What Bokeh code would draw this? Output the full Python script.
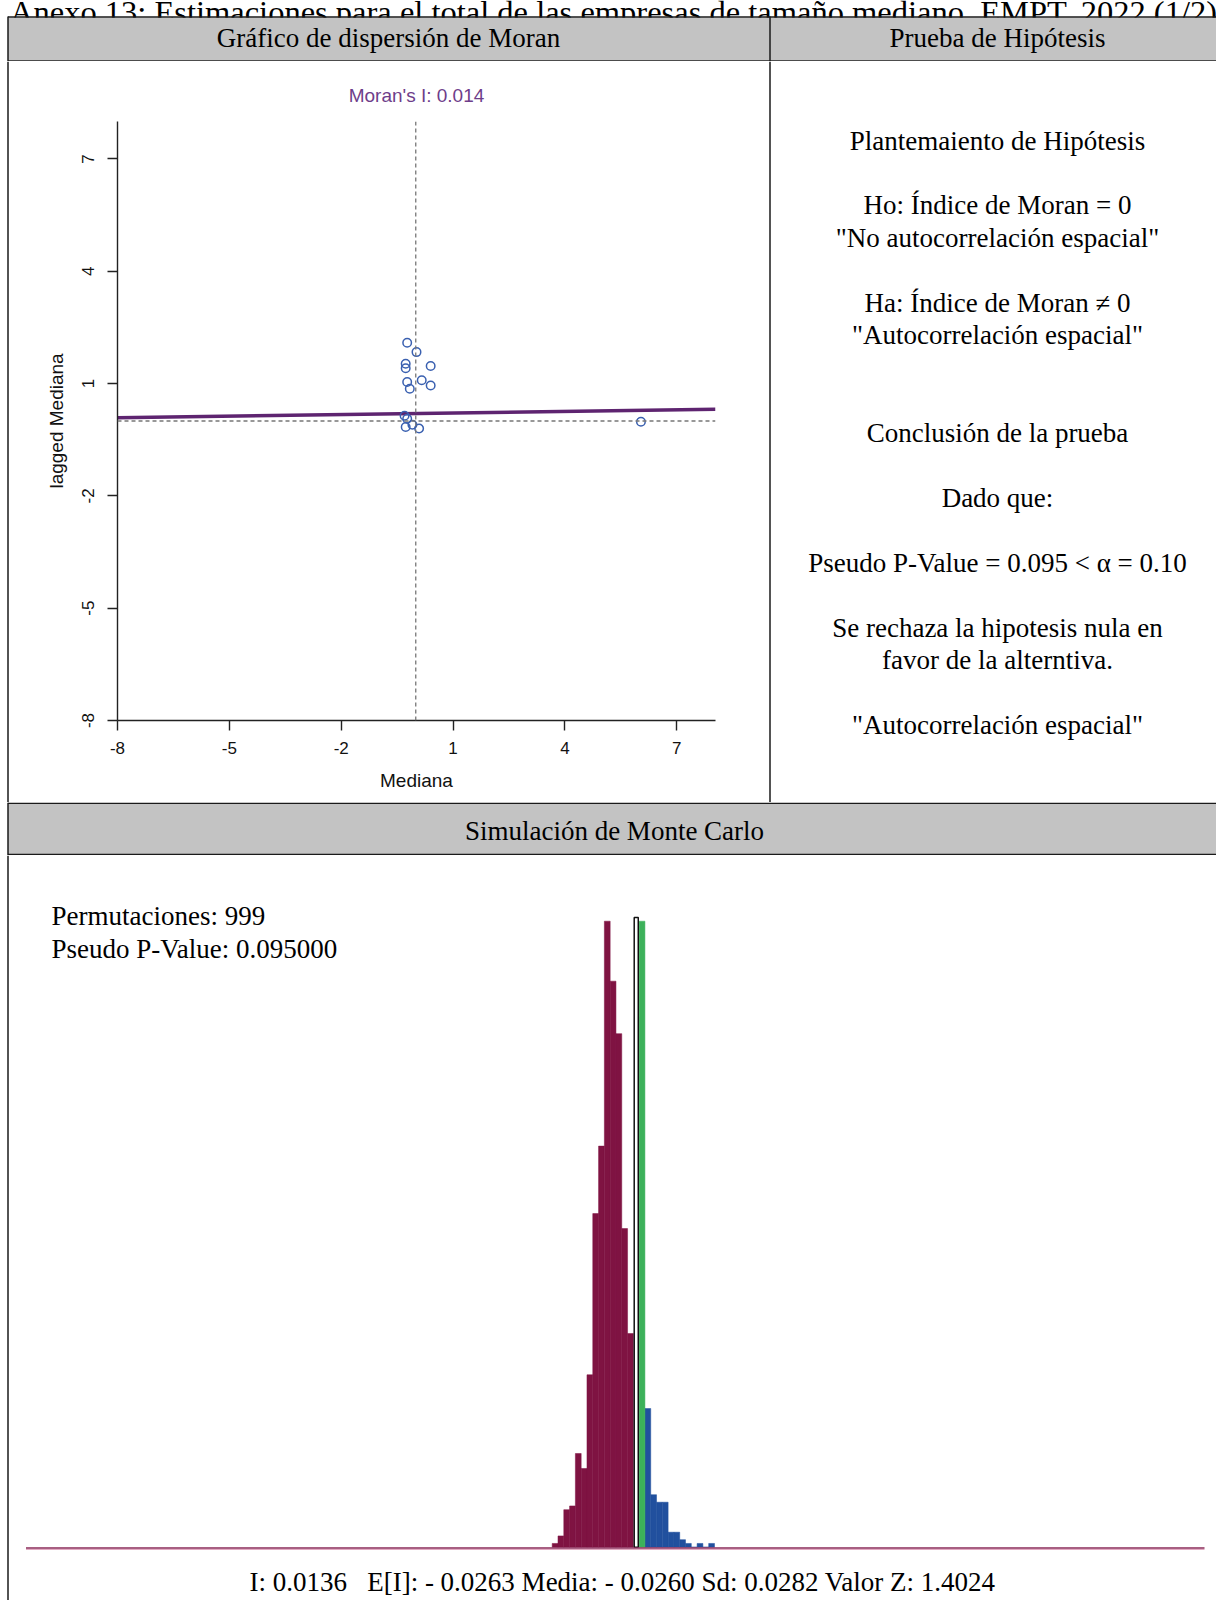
import numpy as np
from bokeh.plotting import figure
from bokeh.layouts import column, row
from bokeh.models import Range1d, FixedTicker, Span
from bokeh.core.properties import value
from bokeh.embed import file_html
from bokeh.resources import INLINE

# ----------------- data -----------------
page_title = "Anexo 13: Estimaciones para el total de las empresas de tamaño mediano, EMPT, 2022 (1/2)"
header_left = "Gráfico de dispersión de Moran"
header_right = "Prueba de Hipótesis"
header_sim = "Simulación de Monte Carlo"

moran_title = "Moran's I: 0.014"
x_label = "Mediana"
y_label = "lagged Mediana"
axis_ticks = [-8, -5, -2, 1, 4, 7]
axis_tick_labels = {-8: "-8", -5: "-5", -2: "-2", 1: "1", 4: "4", 7: "7"}
moran_x = [-0.23, 0.02, -0.27, -0.27, 0.40, -0.23, -0.16, 0.16, 0.40, -0.23, -0.27, -0.09, 0.09, -0.30, 6.04]
moran_y = [2.09, 1.84, 1.53, 1.41, 1.47, 1.04, 0.86, 1.09, 0.95, 0.06, -0.16, -0.10, -0.20, 0.14, -0.02]
moran_slope = 0.014
moran_intercept = 0.2

hyp_lines = [
    "Plantemaiento de Hipótesis",
    "Ho: Índice de Moran = 0",
    "\"No autocorrelación espacial\"",
    "Ha: Índice de Moran \u2260 0",
    "\"Autocorrelación espacial\"",
    "Conclusión de la prueba",
    "Dado que:",
    "Pseudo P-Value = 0.095 < \u03b1 = 0.10",
    "Se rechaza la hipotesis nula en",
    "favor de la alterntiva.",
    "\"Autocorrelación espacial\"",
]

sim_info = ["Permutaciones: 999", "Pseudo P-Value: 0.095000"]
sim_stats = "I: 0.0136\u00a0\u00a0 E[I]: - 0.0263 Media: - 0.0260 Sd: 0.0282 Valor Z: 1.4024"

hist_start = -0.098
hist_bin = 0.0072
hist_counts_below = [1, 3, 10, 11, 25, 21, 46, 89, 107, 167, 151, 137, 85, 57]
hist_counts_above = [37, 14, 12, 12, 4, 4, 2, 1, 0, 1, 0, 1]
observed_I = 0.0136

# ----------------- styling / layout -----------------
SERIF = value("Liberation Serif")
LINE = "#1a1a1a"
GRAY = "#c3c3c3"
W = 1216
A_H, B_H, C_H, D_H = 61, 741, 53, 745
B0_W, B1_W = 9, 759
B2_W = W - B0_W - B1_W
LEFT_X = 7.5        # left table border
DIV_X = 769.5       # vertical divider between the two upper cells


def panel(w, h, **kw):
    p = figure(width=w, height=h, x_range=Range1d(0, w), y_range=Range1d(h, 0),
               output_backend="svg", toolbar_location=None, min_border=0,
               x_axis_location=None, y_axis_location=None, frame_align=False, **kw)
    p.grid.visible = False
    p.outline_line_color = None
    p.background_fill_color = "white"
    p.border_fill_color = "white"
    return p


# ---- header row A ----
A = panel(W, A_H)
A.text(x=[613], y=[11.5], text=[page_title], text_font=SERIF, text_font_size="32.5px",
       text_align="center", text_baseline="alphabetic", text_color="black")
A.quad(left=[LEFT_X], right=[W], top=[17], bottom=[60], fill_color=GRAY, line_color=None)
A.segment(x0=[LEFT_X, LEFT_X, LEFT_X, DIV_X], y0=[16.5, 60.5, 16, 16],
          x1=[W, W, LEFT_X, DIV_X], y1=[16.5, 60.5, A_H, A_H],
          line_color=LINE, line_width=1.5)
A.text(x=[388, 997], y=[37, 37], text=[header_left, header_right], text_font=SERIF,
       text_font_size="27px", text_align="center", text_baseline="middle", text_color="black")

# ---- left border strip ----
B0 = panel(B0_W, B_H)
B0.segment(x0=[LEFT_X], y0=[0], x1=[LEFT_X], y1=[B_H], line_color=LINE, line_width=1.5)

# ---- scatter B1 ----
B1 = figure(width=B1_W, height=B_H, x_range=Range1d(-8, 8.04), y_range=Range1d(-8, 8.0),
            output_backend="svg", toolbar_location=None, frame_align=False,
            min_border_left=108, min_border_right=53, min_border_top=60, min_border_bottom=82,
            title=moran_title)
B1.grid.visible = False
B1.outline_line_color = None
B1.background_fill_color = "white"
B1.border_fill_color = "white"
B1.title.align = "center"
B1.title.text_color = "#6e3d8a"
B1.title.text_font = "Liberation Sans"
B1.title.text_font_size = "19px"
B1.title.text_font_style = "normal"
B1.title.standoff = 32

for ax in (B1.xaxis[0], B1.yaxis[0]):
    ax.ticker = FixedTicker(ticks=axis_ticks)
    ax.major_label_overrides = axis_tick_labels
    ax.major_tick_out = 10
    ax.major_tick_in = 0
    ax.minor_tick_out = 0
    ax.minor_tick_in = 0
    ax.axis_line_color = "#222222"
    ax.axis_line_width = 1.4
    ax.major_tick_line_color = "#222222"
    ax.major_tick_line_width = 1.4
    ax.major_label_text_font = "Liberation Sans"
    ax.major_label_text_font_size = "17px"
    ax.major_label_text_color = "#111111"
    ax.axis_label_text_font = "Liberation Sans"
    ax.axis_label_text_font_size = "19px"
    ax.axis_label_text_font_style = "normal"
    ax.axis_label_text_color = "#111111"
B1.xaxis.axis_label = x_label
B1.yaxis.axis_label = y_label
B1.yaxis.major_label_orientation = "vertical"
B1.xaxis.major_label_standoff = 11
B1.xaxis.axis_label_standoff = 13
B1.yaxis.major_label_standoff = 14
B1.yaxis.axis_label_standoff = 12

B1.add_layout(Span(location=0, dimension="height", line_color="#777777",
                   line_dash="4 3", line_width=1.3))
B1.add_layout(Span(location=0, dimension="width", line_color="#777777",
                   line_dash="4 3", line_width=1.3))
reg_x = np.array([-8.0, 8.04])
B1.line(x=reg_x, y=moran_intercept + moran_slope * reg_x, line_color="#5e2470", line_width=3.4)
B1.scatter(x=moran_x, y=moran_y, marker="circle", size=8.5, fill_color=None,
           line_color="#3a60b0", line_width=1.5)

# ---- text panel B2 (page x starts at 768, page y at 61) ----
B2 = panel(B2_W, B_H)
x2 = DIV_X - (B0_W + B1_W)
B2.segment(x0=[x2], y0=[0], x1=[x2], y1=[B_H], line_color=LINE, line_width=1.5)
hyp_y = [79, 143.4, 176, 241.5, 273, 371, 436.6, 501, 566.4, 598, 663.5]
B2.text(x=[997 - (B0_W + B1_W)] * len(hyp_lines), y=hyp_y, text=hyp_lines, text_font=SERIF,
        text_font_size="27px", text_align="center", text_baseline="middle", text_color="black")

# ---- header row C (page y 802..855) ----
C = panel(W, C_H)
C.quad(left=[LEFT_X], right=[W], top=[1.2], bottom=[51.5], fill_color=GRAY, line_color=None)
C.segment(x0=[LEFT_X, LEFT_X, LEFT_X], y0=[0.75, 52.0, 0], x1=[W, W, LEFT_X], y1=[0.75, 52.0, C_H],
          line_color=LINE, line_width=1.5)
C.text(x=[614], y=[28], text=[header_sim], text_font=SERIF, text_font_size="27px",
       text_align="center", text_baseline="middle", text_color="black")

# ---- histogram D (page y 855..1600) ----
bin_px = 5.796
px_per_unit = bin_px / hist_bin
x0_px = 551.7
xs = hist_start - x0_px / px_per_unit
xe = xs + W / px_per_unit
base_px = 691.7
px_per_count = 626.0 / max(hist_counts_below)
ys = -(D_H - base_px) / px_per_count
ye = base_px / px_per_count

D = figure(width=W, height=D_H, x_range=Range1d(xs, xe), y_range=Range1d(ys, ye),
           extra_x_ranges={"px": Range1d(0, W)}, extra_y_ranges={"px": Range1d(D_H, 0)},
           output_backend="svg", toolbar_location=None, min_border=0, frame_align=False,
           x_axis_location=None, y_axis_location=None)
D.grid.visible = False
D.outline_line_color = None
D.background_fill_color = "white"
D.border_fill_color = "white"

n_lo = len(hist_counts_below)
centers_lo = hist_start + hist_bin * (np.arange(n_lo) + 0.5)
centers_hi = hist_start + hist_bin * (np.arange(len(hist_counts_above)) + n_lo + 2 + 0.5)
D.vbar(x=centers_lo, width=hist_bin, top=hist_counts_below, bottom=0,
       fill_color="#7f1342", line_color="#7f1342", line_width=0.5)
D.vbar(x=centers_hi, width=hist_bin, top=hist_counts_above, bottom=0,
       fill_color="#21509e", line_color="#21509e", line_width=0.5)
D.vbar(x=[observed_I], width=hist_bin, top=[max(hist_counts_below)], bottom=0,
       fill_color="#3cb15a", line_color="#3cb15a", line_width=0.5)
D.vbar(x=[observed_I - hist_bin], width=hist_bin * 0.7, top=[max(hist_counts_below) + 1], bottom=0,
       fill_color="white", line_color="#111111", line_width=1.5)

D.segment(x0=[25.5], y0=[692.4], x1=[1204], y1=[692.4], line_color="#8a2a58", line_width=1.5,
          x_range_name="px", y_range_name="px")
D.segment(x0=[25.5], y0=[694.0], x1=[1204], y1=[694.0], line_color="#e2aac2", line_width=1.0,
          x_range_name="px", y_range_name="px")
D.segment(x0=[LEFT_X], y0=[0], x1=[LEFT_X], y1=[D_H], line_color=LINE, line_width=1.5,
          x_range_name="px", y_range_name="px")
D.text(x=[51, 51], y=[60.5, 93], text=sim_info, text_font=SERIF, text_font_size="27px",
       text_align="left", text_baseline="middle", text_color="black",
       x_range_name="px", y_range_name="px")
D.text(x=[622], y=[726], text=[sim_stats], text_font=SERIF, text_font_size="27px",
       text_align="center", text_baseline="middle", text_color="black",
       x_range_name="px", y_range_name="px")

layout = column(A, row(B0, B1, B2, spacing=0), C, D, spacing=0)

open("out.html", "w").write(file_html(layout, INLINE))
